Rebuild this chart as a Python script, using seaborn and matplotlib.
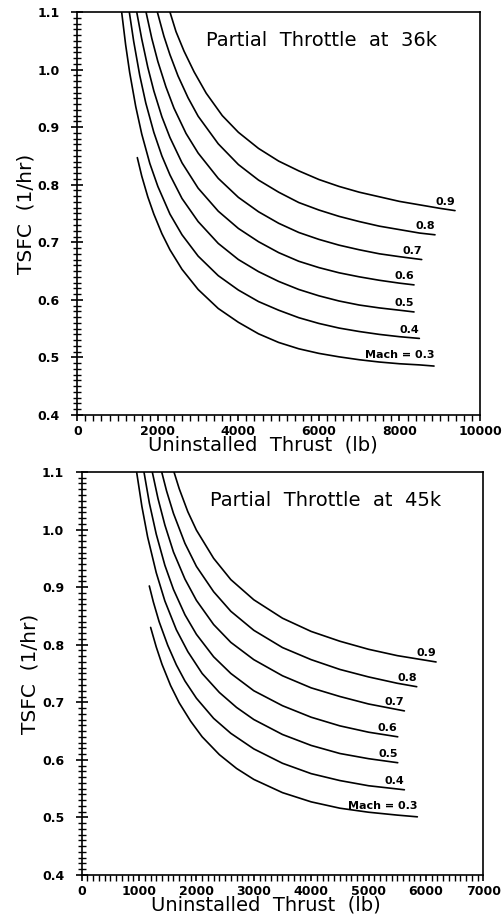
import pandas as pd
import seaborn as sns
import matplotlib
matplotlib.use('Agg')
import matplotlib.pyplot as plt
from matplotlib.ticker import MultipleLocator, FormatStrFormatter

mach_numbers = [0.3, 0.4, 0.5, 0.6, 0.7, 0.8, 0.9]

# ---- Partial throttle at 36k : thrust (lb) / TSFC (1/hr) per Mach
x36_m3 = [1490, 1600, 1750, 1900, 2100, 2300, 2600, 3000, 3500, 4000, 4500, 5000,
          5500, 6000, 6500, 7000, 7500, 8000, 8500, 8858]
y36_m3 = [0.847, 0.815, 0.779, 0.749, 0.715, 0.687, 0.653, 0.618, 0.585, 0.561, 0.541, 0.526,
          0.515, 0.507, 0.501, 0.496, 0.492, 0.489, 0.487, 0.485]
x36_m4 = [1101, 1200, 1300, 1450, 1600, 1800, 2000, 2300, 2600, 3000, 3500, 4000, 4500,
          5000, 5500, 6000, 6500, 7000, 7500, 8000, 8494]
y36_m4 = [1.100, 1.043, 0.995, 0.936, 0.888, 0.837, 0.797, 0.749, 0.713, 0.676, 0.642, 0.617, 0.597,
          0.582, 0.569, 0.559, 0.551, 0.545, 0.540, 0.536, 0.533]
x36_m5 = [1291, 1400, 1550, 1700, 1900, 2100, 2300, 2600, 3000, 3500, 4000, 4500, 5000,
          5500, 6000, 6500, 7000, 7500, 8000, 8361]
y36_m5 = [1.100, 1.049, 0.990, 0.942, 0.891, 0.850, 0.817, 0.776, 0.736, 0.698, 0.670, 0.649, 0.632,
          0.618, 0.607, 0.598, 0.591, 0.586, 0.582, 0.579]
x36_m6 = [1475, 1600, 1750, 1900, 2100, 2300, 2600, 3000, 3500, 4000, 4500, 5000, 5500,
          6000, 6500, 7000, 7500, 8000, 8361]
y36_m6 = [1.100, 1.053, 1.004, 0.963, 0.918, 0.882, 0.838, 0.794, 0.754, 0.724, 0.701, 0.682, 0.667,
          0.656, 0.647, 0.640, 0.634, 0.629, 0.626]
x36_m7 = [1706, 1850, 2000, 2200, 2400, 2700, 3000, 3500, 4000, 4500, 5000, 5500, 6000,
          6500, 7000, 7500, 8000, 8552]
y36_m7 = [1.100, 1.054, 1.014, 0.970, 0.933, 0.889, 0.855, 0.811, 0.778, 0.753, 0.733, 0.717, 0.705,
          0.695, 0.687, 0.680, 0.675, 0.670]
x36_m8 = [1987, 2150, 2300, 2500, 2750, 3000, 3500, 4000, 4500, 5000, 5500, 6000, 6500,
          7000, 7500, 8000, 8500, 8882]
y36_m8 = [1.100, 1.058, 1.026, 0.989, 0.951, 0.919, 0.871, 0.835, 0.808, 0.787, 0.769, 0.756, 0.745,
          0.736, 0.728, 0.722, 0.716, 0.713]
x36_m9 = [2300, 2450, 2650, 2900, 3200, 3600, 4000, 4500, 5000, 5500, 6000, 6500, 7000,
          7500, 8000, 8500, 9000, 9379]
y36_m9 = [1.100, 1.066, 1.032, 0.996, 0.959, 0.920, 0.891, 0.863, 0.841, 0.824, 0.809, 0.797, 0.787,
          0.779, 0.771, 0.765, 0.759, 0.755]

# ---- Partial throttle at 45k
x45_m3 = [1202, 1300, 1400, 1550, 1700, 1900, 2100, 2400, 2700, 3000, 3500, 4000, 4500,
          5000, 5500, 5850]
y45_m3 = [0.830, 0.796, 0.766, 0.729, 0.699, 0.667, 0.640, 0.609, 0.585, 0.566, 0.543, 0.527, 0.516,
          0.509, 0.504, 0.501]
x45_m4 = [1179, 1250, 1350, 1500, 1650, 1800, 2000, 2300, 2600, 3000, 3500, 4000, 4500,
          5000, 5624]
y45_m4 = [0.902, 0.874, 0.840, 0.799, 0.765, 0.737, 0.707, 0.672, 0.646, 0.619, 0.594, 0.576, 0.564,
          0.555, 0.548]
x45_m5 = [958, 1050, 1150, 1300, 1450, 1650, 1850, 2100, 2400, 2700, 3000, 3500, 4000,
          4500, 5000, 5508]
y45_m5 = [1.100, 1.040, 0.987, 0.925, 0.876, 0.826, 0.788, 0.750, 0.717, 0.691, 0.670, 0.644, 0.625,
          0.611, 0.602, 0.595]
x45_m6 = [1086, 1180, 1300, 1450, 1600, 1800, 2000, 2300, 2600, 3000, 3500, 4000, 4500,
          5000, 5508]
y45_m6 = [1.100, 1.046, 0.992, 0.938, 0.896, 0.852, 0.818, 0.779, 0.750, 0.720, 0.694, 0.674, 0.659,
          0.648, 0.640]
x45_m7 = [1231, 1330, 1450, 1600, 1800, 2000, 2300, 2600, 3000, 3500, 4000, 4500, 5000, 5624]
y45_m7 = [1.100, 1.054, 1.008, 0.961, 0.914, 0.877, 0.835, 0.804, 0.774, 0.746, 0.725, 0.710, 0.697,
          0.685]
x45_m8 = [1395, 1480, 1600, 1800, 2000, 2300, 2600, 3000, 3500, 4000, 4500, 5000, 5500, 5839]
y45_m8 = [1.100, 1.067, 1.028, 0.976, 0.936, 0.892, 0.858, 0.825, 0.795, 0.774, 0.757, 0.744, 0.733,
          0.727]
x45_m9 = [1609, 1700, 1850, 2000, 2300, 2600, 3000, 3500, 4000, 4500, 5000, 5500, 6176]
y45_m9 = [1.100, 1.071, 1.031, 0.999, 0.950, 0.913, 0.878, 0.846, 0.823, 0.806, 0.792, 0.781, 0.770]

y_ticks = [0.4, 0.5, 0.6, 0.7, 0.8, 0.9, 1.0, 1.1]


def curve_frame(xs, ys):
    parts = []
    for m, x, y in zip(mach_numbers, xs, ys):
        parts.append(pd.DataFrame({'mach': m, 'thrust': x, 'tsfc': y}))
    return pd.concat(parts, ignore_index=True)


def draw_panel(ax, df, title, xmax, xmajor, xminor, label_x):
    sns.lineplot(data=df, x='thrust', y='tsfc', units='mach', estimator=None,
                 sort=False, color='black', linewidth=1.2, ax=ax)
    ax.set_xlim(0, xmax)
    ax.set_ylim(0.4, 1.1)
    ax.set_yticks(y_ticks)
    ax.xaxis.set_major_locator(MultipleLocator(xmajor))
    ax.xaxis.set_minor_locator(MultipleLocator(xminor))
    ax.yaxis.set_minor_locator(MultipleLocator(0.01))
    ax.yaxis.set_major_formatter(FormatStrFormatter('%.1f'))
    ax.xaxis.set_major_formatter(FormatStrFormatter('%d'))
    ax.tick_params(axis='y', which='major', direction='inout', length=9, width=1.2,
                   labelsize=9, pad=8, left=True, right=False)
    ax.tick_params(axis='y', which='minor', direction='inout', length=6, width=1.0,
                   left=True, right=False)
    ax.tick_params(axis='x', which='major', direction='out', length=4.5, width=1.2,
                   labelsize=9, pad=2.5, bottom=True, top=False)
    ax.tick_params(axis='x', which='minor', direction='out', length=4, width=1.0,
                   bottom=True, top=False)
    for lab in ax.get_xticklabels() + ax.get_yticklabels():
        lab.set_fontweight('bold')
    for s in ax.spines.values():
        s.set_visible(True)
        s.set_linewidth(1.2)
        s.set_color('black')
    ax.set_xlabel('Uninstalled  Thrust  (lb)', fontsize=14)
    ax.set_ylabel('TSFC  (1/hr)', fontsize=14.5)
    ax.xaxis.set_label_coords(label_x, -0.052)
    ax.yaxis.set_label_coords(-0.105, 0.5)
    ax.text(0.607, 0.93, title, transform=ax.transAxes, ha='center', va='center',
            fontsize=14)

    for m, g in df.groupby('mach'):
        last = g.iloc[-1]
        if m == 0.3:
            label, dy = 'Mach = 0.3', 4.5
        else:
            label, dy = f'{m:.1f}', 2.5
        ax.annotate(label, (last['thrust'], last['tsfc']), xytext=(0, dy),
                    textcoords='offset points', ha='right', va='bottom',
                    fontsize=8, fontweight='bold')


sns.set_style('ticks')
plt.rcParams['font.family'] = ['DejaVu Sans']
plt.rcParams['text.color'] = 'black'
plt.rcParams['axes.labelcolor'] = 'black'
plt.rcParams['xtick.color'] = 'black'
plt.rcParams['ytick.color'] = 'black'

fig = plt.figure(figsize=(5.04, 9.22), dpi=100)
ax1 = fig.add_axes([0.1534, 0.5499, 0.799, 0.4371])
ax2 = fig.add_axes([0.1620, 0.0510, 0.797, 0.4371])

df36 = curve_frame([x36_m3, x36_m4, x36_m5, x36_m6, x36_m7, x36_m8, x36_m9],
                   [y36_m3, y36_m4, y36_m5, y36_m6, y36_m7, y36_m8, y36_m9])
df45 = curve_frame([x45_m3, x45_m4, x45_m5, x45_m6, x45_m7, x45_m8, x45_m9],
                   [y45_m3, y45_m4, y45_m5, y45_m6, y45_m7, y45_m8, y45_m9])

draw_panel(ax1, df36, 'Partial  Throttle  at  36k', 10000, 2000, 200, 0.461)
draw_panel(ax2, df45, 'Partial  Throttle  at  45k', 7000, 1000, 100, 0.459)

fig.savefig('out.png', dpi=100)
